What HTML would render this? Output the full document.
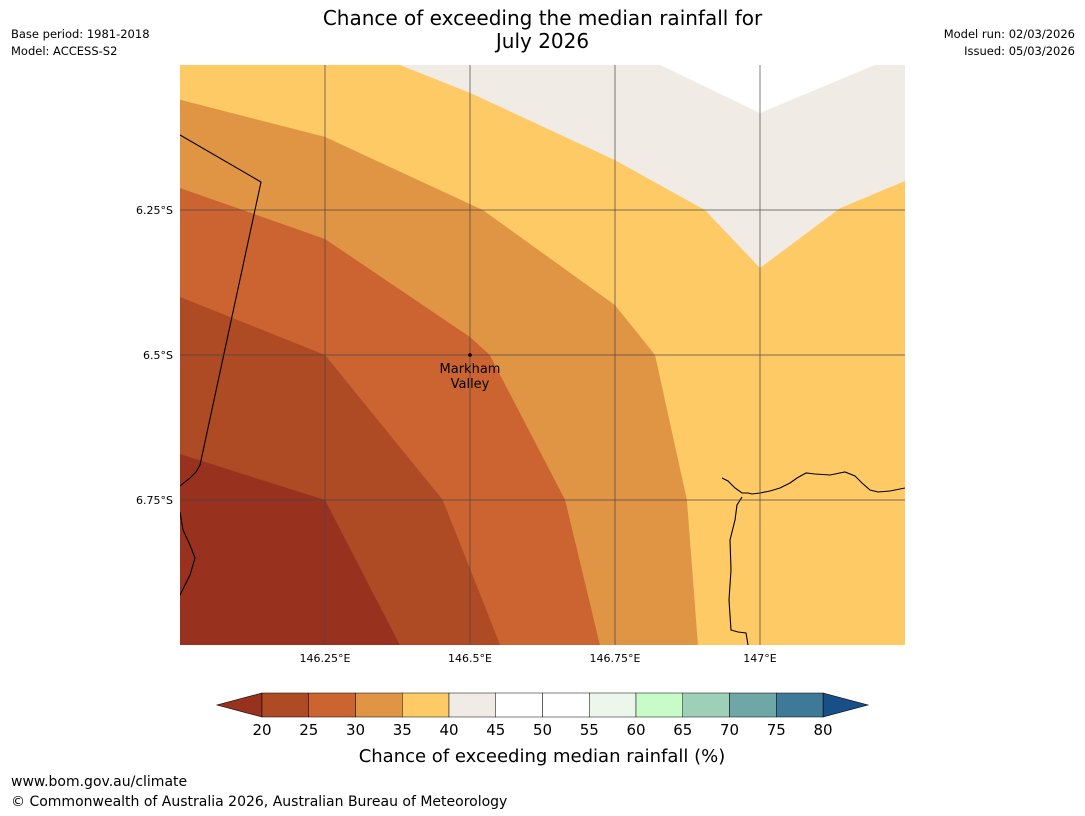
<!DOCTYPE html>
<html><head><meta charset="utf-8">
<style>
body{margin:0;background:#fff;font-family:"DejaVu Sans","Liberation Sans",sans-serif;}
#wrap{position:relative;width:1085px;height:816px;overflow:hidden;}
.t{position:absolute;font-size:11.5px;color:#000;}
</style></head><body>
<div id="wrap">
<div class="t" style="left:0;width:1085px;top:7px;text-align:center;font-size:20px;line-height:23px">Chance of exceeding the median rainfall for<br>July 2026</div>
<div class="t" style="left:11px;top:26px;line-height:17px">Base period: 1981-2018<br>Model: ACCESS-S2</div>
<div class="t" style="right:10px;top:26px;line-height:17px;text-align:right">Model run: 02/03/2026<br>Issued: 05/03/2026</div>
<div class="t" style="left:11px;top:774px;font-size:14px">www.bom.gov.au/climate</div>
<div class="t" style="left:11px;top:794px;font-size:14px">© Commonwealth of Australia 2026, Australian Bureau of Meteorology</div>
<svg id="svg" width="1085" height="816" style="position:absolute;left:0;top:0"></svg>
</div>
<script>
const lonTicks=[146.25,146.5,146.75,147];
const lonLabels=["146.25°E","146.5°E","146.75°E","147°E"];
const latTicks=[6.25,6.5,6.75];
const latLabels=["6.25°S","6.5°S","6.75°S"];
const levels=[20,25,30,35,40,45,50,55,60,65,70,75,80];
const barColors=["#ae4a24","#cb6431","#e09545","#fdca66","#f0ebe5","#ffffff","#ffffff","#eaf7ea","#c7fbc7","#9ed0b8","#6fa6a6","#3f7998"];
const underColor="#99311f", overColor="#174f86";
const bgColor="#fdca66";
const band4045=[[146.379,6.0],[147.25,6.0],[147.25,6.2],[147.138,6.247],[147.0,6.35],[146.905,6.25],[146.75,6.164],[146.5,6.048]];
const band4550=[[146.828,6.0],[147.0,6.083],[147.198,6.0]];
const band3035=[[146,6.06],[146.25,6.124],[146.522,6.25],[146.75,6.414],[146.819,6.5],[146.874,6.75],[146.893,7.0],[146,7.0]];
const band2530=[[146,6.212],[146.25,6.3],[146.5,6.469],[146.534,6.5],[146.664,6.75],[146.724,7.0],[146,7.0]];
const band2025=[[146,6.4],[146.25,6.5],[146.453,6.75],[146.552,7.0],[146,7.0]];
const bandLt20=[[146,6.671],[146.25,6.75],[146.379,7.0],[146,7.0]];
const town={name:["Markham","Valley"],lon:146.5,lat:6.5};

const X0=180,X1=905,Y0=65,Y1=645;
const xS=lon=>X0+(lon-146)/1.25*(X1-X0);
const yS=lat=>Y0+(lat-6)/1.0*(Y1-Y0);
const NS="http://www.w3.org/2000/svg";
const FF='DejaVu Sans, Liberation Sans, sans-serif';
const svg=document.getElementById('svg');
function mk(tag,attrs,parent){const e=document.createElementNS(NS,tag);for(const k in attrs)e.setAttribute(k,attrs[k]);(parent||svg).appendChild(e);return e;}
const defs=mk('defs',{});const cp=mk('clipPath',{id:'mc'},defs);mk('rect',{x:X0,y:Y0,width:X1-X0,height:Y1-Y0},cp);
const g=mk('g',{'clip-path':'url(#mc)'});
const bg=mk('rect',{x:X0,y:Y0,width:X1-X0,height:Y1-Y0,fill:bgColor},g);


function poly(pts,fill,name){const p=mk('polygon',{points:pts.map(q=>xS(q[0])+','+yS(q[1])).join(' '),fill:fill},g);

}
poly(band4045,"#f0ebe5",'band-40-45');
poly(band4550,"#ffffff",'band-45-50');
poly(band3035,"#e09545",'band-30-35');
poly(band2530,"#cb6431",'band-25-30');
poly(band2025,"#ae4a24",'band-20-25');
poly(bandLt20,underColor,'band-below-20');
const b1=mk('path',{d:"M180,135 L261,182 L200,465 L196,472 L190,478 L180,486",fill:'none',stroke:'#000','stroke-width':1.1},g);


const b2=mk('path',{d:"M180,512 L183,530 190,545 195,558 190,575 180,595",fill:'none',stroke:'#000','stroke-width':1.1},g);


const b3=mk('path',{d:"M722,478 L728,481 735,488 742,493 748,493 752,494 760,493 770,491 780,488 790,483 797,478 806,473 815,474 830,475 845,472 855,476 862,483 870,490 878,492 890,491 905,488 M742,497 L737,505 735,520 730,540 731,570 729,600 731,630 738,632 746,633 748,645",fill:'none',stroke:'#000','stroke-width':1.1},g);


lonTicks.forEach((v,i)=>{const l=mk('line',{x1:xS(v),x2:xS(v),y1:Y0,y2:Y1,stroke:'#444','stroke-opacity':0.7,'stroke-width':1});


const t=mk('text',{x:xS(v),y:Y1+17,'font-size':11,'text-anchor':'middle','font-family':FF});t.textContent=lonLabels[i];

});
latTicks.forEach((v,i)=>{const l=mk('line',{x1:X0,x2:X1,y1:yS(v),y2:yS(v),stroke:'#444','stroke-opacity':0.7,'stroke-width':1});


const t=mk('text',{x:X0-7,y:yS(v)+4,'font-size':11,'text-anchor':'end','font-family':FF});t.textContent=latLabels[i];

});
const dot=mk('circle',{cx:xS(town.lon),cy:yS(town.lat),r:1.8,fill:'#000'});


town.name.forEach((s,i)=>{const t=mk('text',{x:xS(town.lon),y:yS(town.lat)+18+i*15,'font-size':13,'text-anchor':'middle','font-family':FF});t.textContent=s;

});
const CB0=262,CB1=823,CBy=693,CBh=24;
const cx=v=>CB0+(v-levels[0])/(levels[levels.length-1]-levels[0])*(CB1-CB0);
const u=mk('polygon',{points:`${CB0},${CBy} ${CB0},${CBy+CBh} 217,${CBy+CBh/2}`,fill:underColor,stroke:'#000','stroke-width':0.6});


const o=mk('polygon',{points:`${CB1},${CBy} ${CB1},${CBy+CBh} 868,${CBy+CBh/2}`,fill:overColor,stroke:'#000','stroke-width':0.6});


barColors.forEach((c,i)=>{const r=mk('rect',{x:cx(levels[i]),y:CBy,width:cx(levels[i+1])-cx(levels[i]),height:CBh,fill:c,stroke:'#000','stroke-width':0.5});

});
levels.forEach(v=>{const t=mk('text',{x:cx(v),y:735,'font-size':15,'text-anchor':'middle','font-family':FF});t.textContent=v;

});
const ct=mk('text',{x:542,y:762,'font-size':18,'text-anchor':'middle','font-family':FF});ct.textContent="Chance of exceeding median rainfall (%)";


</script>
</body></html>
